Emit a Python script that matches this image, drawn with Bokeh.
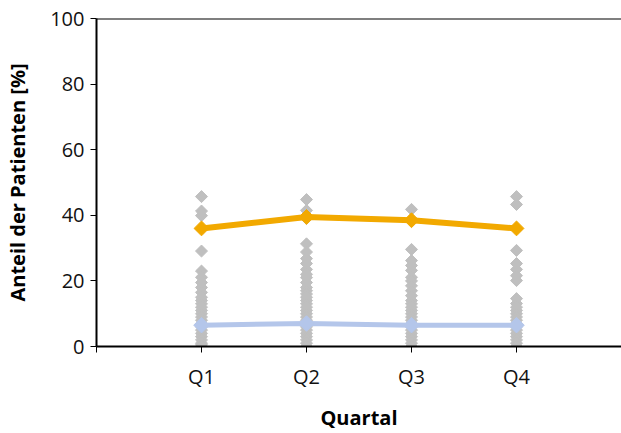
import numpy as np
from bokeh.plotting import figure
from bokeh.models import FixedTicker, Span
from bokeh.embed import file_html
from bokeh.resources import INLINE

categories = ["Q1", "Q2", "Q3", "Q4"]
orange_values = [36.0, 39.5, 38.5, 36.0]
blue_values = [6.5, 7.0, 6.5, 6.5]

q1_points = [45.7, 41.3, 39.9, 29.1, 23.0, 21.1, 19.5, 18.0, 16.5, 15.0, 14.0, 13.0, 12.0,
             11.0, 10.0, 9.0, 8.0, 7.0, 6.0, 5.0, 4.0, 3.0, 2.0, 1.0, 0.5, 0.0]
q2_points = [44.8, 41.5, 39.0, 31.3, 28.8, 26.8, 25.3, 23.5, 22.0, 21.0, 19.5, 18.0, 17.0,
             16.0, 15.0, 14.0, 13.0, 12.0, 11.0, 10.0, 9.0, 8.0, 7.0, 6.0, 5.0, 4.0, 3.0,
             2.0, 1.0, 0.0]
q3_points = [41.8, 38.4, 29.6, 26.2, 24.7, 23.2, 21.1, 20.0, 18.5, 17.0, 15.5, 14.0, 13.0,
             12.0, 11.0, 10.0, 9.0, 8.0, 7.0, 6.0, 5.0, 4.0, 3.0, 2.0, 1.0, 0.0]
q4_points = [45.7, 43.3, 36.0, 29.3, 25.3, 23.5, 21.6, 20.1, 14.6, 13.1, 12.0, 11.0, 10.0,
             9.0, 8.0, 7.0, 6.0, 5.0, 4.0, 3.0, 2.0, 1.0, 0.0]
point_lists = [q1_points, q2_points, q3_points, q4_points]

y_ticks = [0, 20, 40, 60, 80, 100]

xpos = list(range(1, len(categories) + 1))

W, H = 621, 433
p = figure(width=W, height=H, output_backend="svg", toolbar_location=None,
           x_range=(0, 525 / 105), y_range=(0, 100),
           min_border_left=96, min_border_right=0, min_border_top=18, min_border_bottom=87)
p.outline_line_color = None
p.grid.grid_line_color = None
p.background_fill_color = "white"
p.border_fill_color = "white"

# scatter points
sx, sy = [], []
for i, pts in enumerate(point_lists):
    sx += [xpos[i]] * len(pts)
    sy += pts
p.scatter(sx, sy, marker="square", size=8.5, angle=np.pi / 4,
          fill_color="#BFBFBF", line_color="#BFBFBF")

# lines
p.line(xpos, orange_values, line_color="#F2A900", line_width=6)
p.scatter(xpos, orange_values, marker="square", size=10.5, angle=np.pi / 4,
          fill_color="#F2A900", line_color="#F2A900")
p.line(xpos, blue_values, line_color="#B4C6EA", line_width=5)
p.scatter(xpos, blue_values, marker="square", size=11, angle=np.pi / 4,
          fill_color="#B4C6EA", line_color="#B4C6EA")

p.add_layout(Span(location=100, dimension="width", line_color="black", line_width=2))

font = "Open Sans"
p.xaxis.ticker = FixedTicker(ticks=[0] + xpos)
p.xaxis.major_label_overrides = {0: "", **{x: c for x, c in zip(xpos, categories)}}
p.yaxis.ticker = FixedTicker(ticks=y_ticks)
p.xaxis.minor_tick_line_color = None
p.yaxis.minor_tick_line_color = None
for ax in (p.xaxis[0], p.yaxis[0]):
    ax.axis_line_width = 2
    ax.axis_line_color = "black"
    ax.major_tick_line_color = "black"
    ax.major_tick_in = 0
    ax.major_tick_out = 6
    ax.major_label_text_font = font
    ax.major_label_text_font_size = "20px"
    ax.major_label_text_color = "#111111"
    ax.axis_label_text_font = font
    ax.axis_label_text_font_size = "20px"
    ax.axis_label_text_font_style = "bold"
    ax.axis_label_text_color = "black"
p.xaxis.major_label_standoff = 10
p.yaxis.major_label_standoff = 6
p.xaxis.axis_label = "Quartal"
p.xaxis.axis_label_standoff = 11
p.yaxis.axis_label = "Anteil der Patienten [%]"
p.yaxis.axis_label_standoff = 16

open("out.html", "w").write(file_html(p, INLINE))
